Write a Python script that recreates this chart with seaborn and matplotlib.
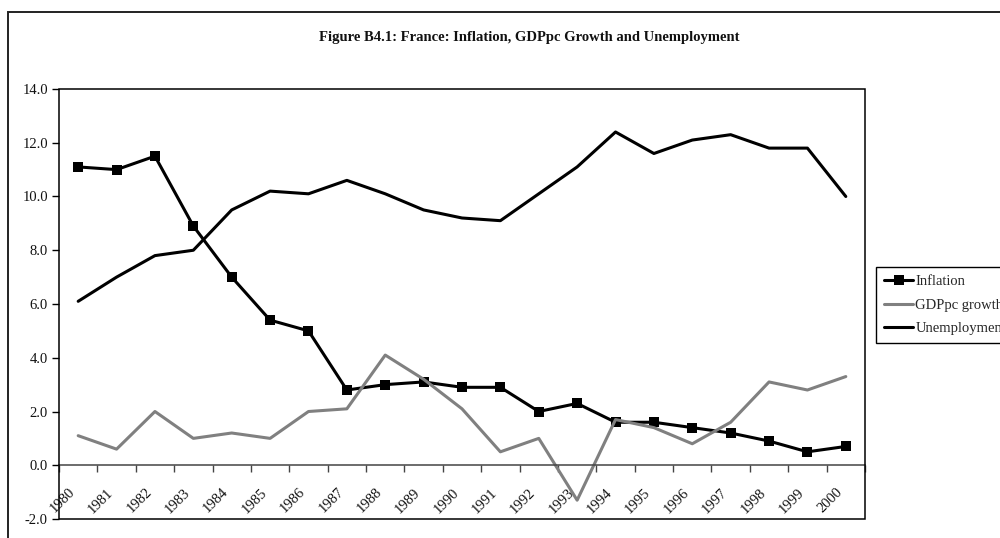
import numpy as np
import pandas as pd
import seaborn as sns
import matplotlib.pyplot as plt
from matplotlib.patches import Rectangle
from matplotlib.ticker import FixedLocator, FuncFormatter
from matplotlib.transforms import ScaledTranslation

sns.set_theme(style='white')
plt.rcParams['font.family'] = ['Liberation Serif', 'DejaVu Serif']

years = [str(y) for y in range(1980, 2001)]
inflation = [11.1, 11.0, 11.5, 8.9, 7.0, 5.4, 5.0, 2.8, 3.0, 3.1, 2.9, 2.9, 2.0,
             2.3, 1.6, 1.6, 1.4, 1.2, 0.9, 0.5, 0.7]
gdppc_growth = [1.1, 0.6, 2.0, 1.0, 1.2, 1.0, 2.0, 2.1, 4.1, 3.2, 2.1, 0.5, 1.0,
                -1.3, 1.7, 1.4, 0.8, 1.6, 3.1, 2.8, 3.3]
unemployment = [6.1, 7.0, 7.8, 8.0, 9.5, 10.2, 10.1, 10.6, 10.1, 9.5, 9.2, 9.1,
                10.1, 11.1, 12.4, 11.6, 12.1, 12.3, 11.8, 11.8, 10.0]

df = pd.DataFrame({'year': years, 'Inflation': inflation,
                   'GDPpc growth': gdppc_growth, 'Unemployment': unemployment})

fig = plt.figure(figsize=(10, 5.38), dpi=100)
ax = fig.add_axes([0.059, 0.0353, 0.806, 0.7993])

# outer chart frame
fig.patches.append(Rectangle((0.008, -0.2), 1.2, 1.1777, transform=fig.transFigure,
                             fill=False, edgecolor='#222222', linewidth=1.4))

styles = {'Inflation': ('black', 's'), 'GDPpc growth': ('#808080', None),
          'Unemployment': ('black', None)}
for name, (col, mk) in styles.items():
    sns.lineplot(data=df, x='year', y=name, color=col, marker=mk, linewidth=2.2,
                 markersize=7.5, markeredgewidth=0, sort=False, label=name, ax=ax)

ax.set_xlim(-0.5, len(years) - 0.5)
ax.set_ylim(-2, 14)
ax.set_xlabel('')
ax.set_ylabel('')

# plot area border
ax.add_patch(Rectangle((0, 0), 1, 1, transform=ax.transAxes, fill=False,
                       edgecolor='black', linewidth=1.1, zorder=5, clip_on=False))
for s in ax.spines.values():
    s.set_visible(False)
ax.spines['bottom'].set_visible(True)
ax.spines['bottom'].set_position(('data', 0))
ax.spines['bottom'].set_color('#444444')
ax.spines['bottom'].set_linewidth(1.1)

ax.set_yticks(np.arange(-2, 15, 2))
ax.yaxis.set_major_formatter(FuncFormatter(lambda v, p: f'{v:.1f}'))
ax.tick_params(axis='y', left=True, direction='out', length=5, width=1,
               color='black', labelsize=10.5, pad=3, labelcolor='#111111')

ax.xaxis.set_major_locator(FixedLocator(np.arange(-0.5, len(years), 1.0)))
ax.xaxis.set_major_formatter(FuncFormatter(lambda v, p: ''))
ax.xaxis.set_minor_locator(FixedLocator(np.arange(len(years))))
ax.set_xticklabels(years, minor=True)
ax.tick_params(axis='x', which='major', bottom=True, direction='out', length=5,
               width=1, color='#444444')
ax.tick_params(axis='x', which='minor', bottom=True, length=0, pad=14,
               labelsize=10.5, labelcolor='#111111')
shift = ScaledTranslation(-0.1, -0.01, fig.dpi_scale_trans)
for lab in ax.get_xticklabels(minor=True):
    lab.set_rotation(45)
    lab.set_ha('right')
    lab.set_va('top')
    lab.set_rotation_mode('anchor')
    lab.set_transform(lab.get_transform() + shift)

fig.text(0.529, 0.931, 'Figure B4.1: France: Inflation, GDPpc Growth and Unemployment',
         ha='center', va='center', fontsize=10.5, fontweight='bold', color='#111111')

handles, labels = ax.get_legend_handles_labels()
ax.legend(handles, labels, loc='upper left', bbox_to_anchor=(1.0136, 0.586),
          frameon=True, fancybox=False, edgecolor='black', framealpha=1,
          fontsize=10.5, handlelength=2.0, handletextpad=0.15, borderpad=0.55,
          labelspacing=0.7, borderaxespad=0)
ax.get_legend().get_frame().set_linewidth(1.0)

fig.savefig('out.png', dpi=100)
